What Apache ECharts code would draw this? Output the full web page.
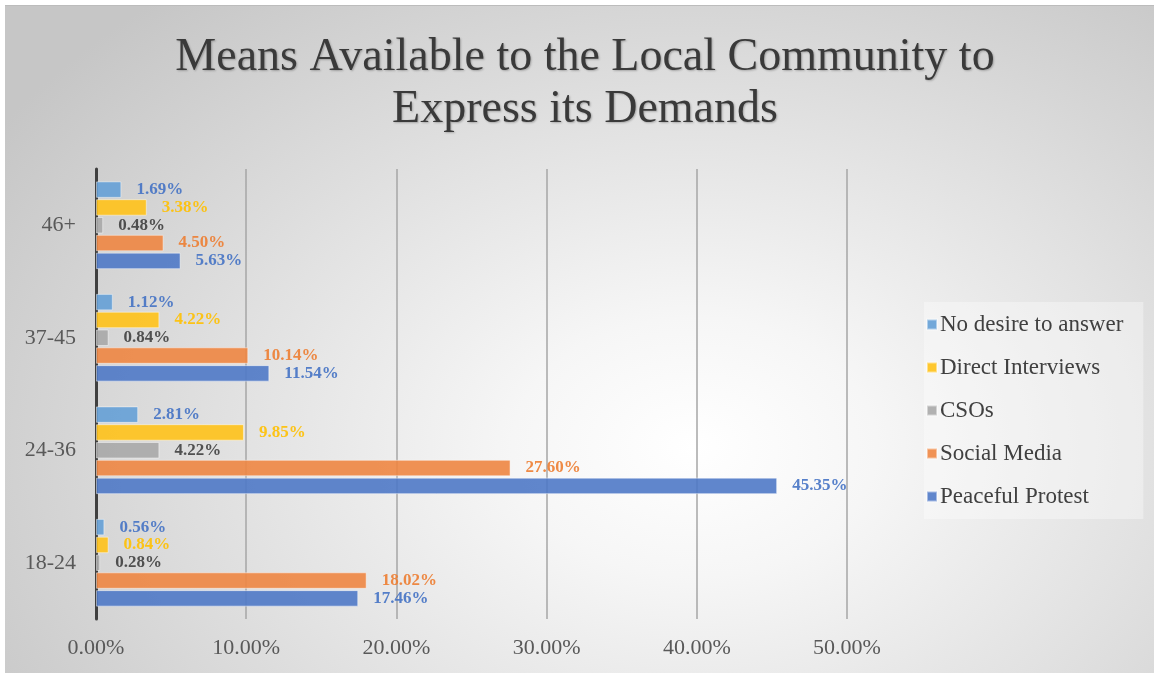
<!DOCTYPE html>
<html>
<head>
<meta charset="utf-8">
<script src="https://cdn.jsdelivr.net/npm/echarts@6/dist/echarts.min.js"></script>
<style>
  html, body { margin: 0; padding: 0; background: #ffffff; }
  #bg {
    position: absolute; left: 5px; top: 5px; width: 1149px; height: 668px;
    border-top: 1px solid #bcbcbc;
    background: radial-gradient(ellipse 72% 88% at 60% 66%, #ffffff 0%, #f6f6f6 22%, #e2e2e2 55%, #c6c6c6 100%);
  }
  #chart { position: absolute; left: 0; top: 0; width: 1154px; height: 673px; }
</style>
</head>
<body>
<div id="bg"></div>
<div id="chart"></div>
<script>
// Age groups, bottom to top on the category axis
const ageGroups = ['18-24', '24-36', '37-45', '46+'];

// Share of respondents (%) per channel and age group
const peacefulProtest  = [17.46, 45.35, 11.54, 5.63];
const socialMedia      = [18.02, 27.60, 10.14, 4.50];
const csos             = [0.28, 4.22, 0.84, 0.48];
const directInterviews = [0.84, 9.85, 4.22, 3.38];
const noDesire         = [0.56, 2.81, 1.12, 1.69];

const xTicks = { min: 0, max: 50, interval: 10 };

const FONT = '"Liberation Serif", "DejaVu Serif", serif';

function makeSeries(name, data, fill, labelColor) {
  return {
    name: name,
    type: 'bar',
    data: data,
    barGap: '8%',
    barCategoryGap: '22%',
    itemStyle: { color: fill, opacity: 0.9, borderColor: 'rgba(255,255,255,0.5)', borderWidth: 1 },
    label: {
      show: true,
      position: 'right',
      distance: 15,
      color: labelColor,
      fontFamily: FONT,
      fontSize: 17,
      fontWeight: 'bold',
      formatter: p => p.value.toFixed(2) + '%'
    },
    emphasis: { disabled: true }
  };
}

const chart = echarts.init(document.getElementById('chart'), null, { renderer: 'canvas' });

chart.setOption({
  backgroundColor: 'transparent',
  animation: false,
  title: {
    text: 'Means Available to the Local Community to\nExpress its Demands',
    left: 580,
    textAlign: 'center',
    top: 27,
    textStyle: {
      fontFamily: FONT,
      fontSize: 46,
      fontWeight: 'normal',
      color: '#3a3a3a',
      lineHeight: 52,
      textShadowColor: 'rgba(0,0,0,0.25)',
      textShadowBlur: 2,
      textShadowOffsetX: 1,
      textShadowOffsetY: 1
    }
  },
  legend: {
    orient: 'vertical',
    left: 924,
    top: 302,
    padding: [11, 20, 11, 2],
    backgroundColor: 'rgba(255,255,255,0.35)',
    itemWidth: 10,
    itemHeight: 10,
    itemGap: 20,
    icon: 'rect',
    data: ['No desire to answer', 'Direct Interviews', 'CSOs', 'Social Media', 'Peaceful Protest'],
    textStyle: { fontFamily: FONT, fontSize: 23, color: '#404040', padding: [0, 0, 0, -2] }
  },
  grid: { left: 96, right: 307, top: 169, bottom: 54, containLabel: false },
  xAxis: {
    type: 'value',
    min: xTicks.min,
    max: xTicks.max,
    interval: xTicks.interval,
    axisLine: { show: false },
    axisTick: { show: false },
    splitLine: { show: true, lineStyle: { color: '#a6a6a6', width: 1.5 } },
    axisLabel: {
      margin: 18,
      fontFamily: FONT,
      fontSize: 22,
      color: '#595959',
      formatter: v => v.toFixed(2) + '%'
    }
  },
  yAxis: {
    type: 'category',
    data: ageGroups,
    axisLine: { show: true, lineStyle: { color: '#404040', width: 3 } },
    axisTick: { show: false },
    axisLabel: { margin: 20, fontFamily: FONT, fontSize: 22, color: '#595959' }
  },
  // Within each group the first series is drawn at the top
  series: [
    makeSeries('No desire to answer', noDesire, '#65a0d6', '#4472C4'),
    makeSeries('Direct Interviews', directInterviews, '#ffc21a', '#FFC000'),
    makeSeries('CSOs', csos, '#a8a8a8', '#404040'),
    makeSeries('Social Media', socialMedia, '#ee8642', '#ED7D31'),
    makeSeries('Peaceful Protest', peacefulProtest, '#4f79c6', '#4472C4')
  ]
});
</script>
</body>
</html>
